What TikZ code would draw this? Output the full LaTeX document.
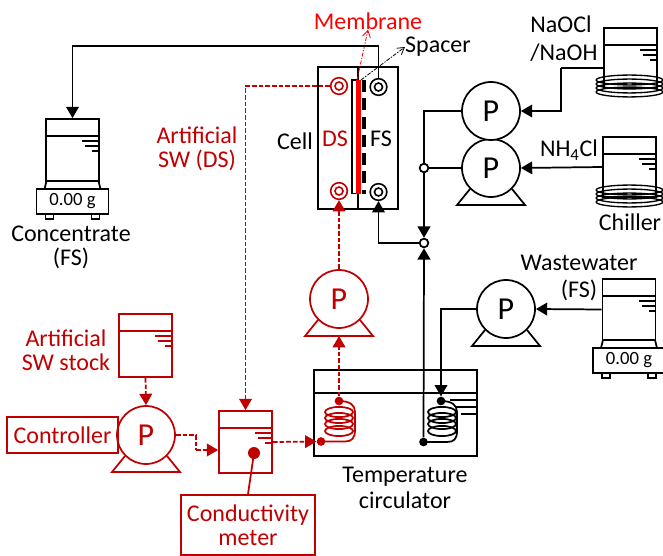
\documentclass[tikz,border=0pt]{standalone}
\usepackage{fontspec}
\setmainfont{Carlito}
\usetikzlibrary{arrows.meta}
\definecolor{darkred}{HTML}{C00000}
\tikzset{
  wire/.style={line width=1.3pt},
  flow/.style={wire,-{Triangle[length=8.5pt,width=9.5pt]}},
  redwire/.style={wire,darkred,dash pattern=on 3.5pt off 1.5pt},
  redflow/.style={redwire,-{Triangle[length=8.5pt,width=9.5pt]}},
  pumpbody/.style={circle,draw,wire,fill=white,inner sep=0pt,minimum size=43.5pt,font=\fontsize{24}{24}\selectfont},
  beaker/.style={rectangle,draw,wire,inner sep=0pt,minimum width=39.75pt},
  portring/.style={circle,draw,line width=1.2pt,fill=white,inner sep=0pt,minimum size=12.5pt},
  portcore/.style={circle,draw,line width=1.2pt,inner sep=0pt,minimum size=6pt},
  junction/.style={circle,draw,wire,fill=white,inner sep=0pt,minimum size=6.5pt},
  blob/.style={circle,fill,inner sep=0pt,minimum size=6.5pt},
  label/.style={align=center,inner sep=0pt,font=\fontsize{18}{18}\selectfont},
  redbox/.style={rectangle,draw=darkred,wire,text=darkred,align=center,inner sep=0pt,font=\fontsize{18}{18}\selectfont},
  pointer/.style={line width=0.6pt,dash pattern=on 3pt off 1pt on 1pt off 1pt,-{Straight Barb[length=5pt,width=6pt]}}
}
% pump: name, x, y, colour, letter colour goes with the colour
\newcommand{\pump}[4]{%
  \draw[wire,#4,line join=miter] (#2-21,#3+21) -- (#2-34,#3+37) -- (#2+34,#3+37) -- (#2+21,#3+21);
  \node[pumpbody,draw=#4,text=#4] (#1) at (#2,#3) {P};
  \coordinate (#1foot) at (#2,#3+37);
}
% beaker: name, x centre, top, bottom, colour
\newcommand{\tank}[5]{%
  \node[beaker,draw=#5,minimum height={(#4-#3)*0.75pt}] (#1) at (#2,{(#3+#4)/2}) {};
  \draw[wire,#5] (#2-26.5,#3+17) -- (#2+26.5,#3+17);
  \draw[wire,#5] (#2+26.5,#3+22) -- ++(-17,0);
  \draw[wire,#5] (#2+26.5,#3+27) -- ++(-14,0);
  \draw[wire,#5] (#2+26.5,#3+32) -- ++(-7,0);
}
% scale under a beaker: name, x centre, top
\newcommand{\scalebase}[3]{%
  \draw[wire] (#2-26,#3) -- (#2-28,#3+8) -- (#2+28,#3+8) -- (#2+26,#3);
  \draw[line width=1pt] (#2-27,#3+33) rectangle (#2-19,#3+38);
  \draw[line width=1pt] (#2+19,#3+33) rectangle (#2+27,#3+38);
  \node[rectangle,draw,wire,inner sep=0pt,minimum width=54pt,minimum height=19pt,fill=white,font=\fontsize{14}{14}\selectfont] (#1) at (#2,#3+20.5) {0.00 g};
}
% cooling coil round a beaker: x centre, first y
\newcommand{\chillcoil}[2]{%
  \foreach \yy in {0,4,8,12}
    \draw[line width=1pt] (#1,#2+\yy) ellipse[x radius=25pt,y radius=3.7pt];
}
% coil in the bath: x centre, colour
\newcommand{\bathcoil}[2]{%
  \foreach \yy in {412,418,424,431}
    \draw[wire,#2] (#1,\yy) ellipse[x radius=10.5pt,y radius=3.8pt];
}
\begin{document}
\begin{tikzpicture}[x=0.75pt,y=-0.75pt]
\useasboundingbox (0,0) rectangle (663,556);
% Cell
\node[rectangle,draw,wire,inner sep=0pt,minimum width=60pt,minimum height=106.5pt] (cell) at (358,138) {};
\draw[wire] (cell.north) -- (cell.south);
\draw[wire,fill=white] (352,80) rectangle (358,193.5);
\draw[line width=3pt,dash pattern=on 9pt off 4.7pt] (363.5,80) -- (363.5,194);
\draw[line width=3.2pt,red] (358.5,80) -- (358.5,194);
\coordinate (membtop) at (357,80);
\coordinate (spacertop) at (361,80);
% Ports
\node[portring,draw=darkred] (portdsup) at (339,86) {};
\node[portcore,draw=darkred] at (339,86) {};
\node[portring,draw=darkred] (portdslow) at (339,191) {};
\node[portcore,draw=darkred] at (339,191) {};
\node[portring] (portfsup) at (378.5,87) {};
\node[portcore] at (378.5,87) {};
\node[portring] (portfslow) at (378.5,192) {};
\node[portcore] at (378.5,192) {};
\node[label,text=darkred] (lblds) at (335,139) {DS};
\node[label] (lblfs) at (381,139) {FS};
\node[label] (lblcell) at (295,141) {Cell};
\node[label,text=red] (lblmemb) at (368,21) {Membrane};
\node[label] (lblspacer) at (438,47) {Spacer};
\draw[pointer,red] (membtop) -- (lblmemb.south);
\draw[pointer] (spacertop) -- (lblspacer.west);
% Pumps
\pump{pumpnh}{491}{168}{black}
\node[pumpbody] (pumpnaocl) at (491,111) {P};
\pump{pumpww}{506}{309}{black}
\pump{pumpds}{339}{299}{darkred}
\pump{pumpsw}{146}{435}{darkred}
% Concentrate
\tank{tankconc}{72.5}{119}{181}{black}
\scalebase{scaleconc}{72.5}{181}
\node[label] (lblconc) at (71,247) {Concentrate\\(FS)};
\coordinate (bendtop) at (378.5,46);
\draw[wire] (portfsup.north) -- (bendtop);
\draw[flow] (bendtop) -| (tankconc.north);
% NaOCl and NH4Cl
\chillcoil{629.5}{80}
\tank{tanknaocl}{630.5}{28}{88}{black}
\chillcoil{629.5}{190}
\tank{tanknh}{629.5}{137}{197}{black}
\node[label,align=left] (lblnaocl) at (564,39) {NaOCl\\[3pt]/NaOH};
\node[label] (lblnh) at (569,150) {NH\textsubscript{4}Cl};
\node[label] (lblchill) at (630,222) {Chiller};
\coordinate (bendnaocl) at (561,68);
\draw[wire] (tanknaocl.west |- bendnaocl) -- (bendnaocl);
\draw[flow] (bendnaocl) |- (pumpnaocl.east);
\draw[flow] (tanknh.west) -- (pumpnh.east);
% Junctions
\node[junction] (junctop) at (424,168) {};
\node[junction] (junclow) at (424,243) {};
\draw[wire] (pumpnaocl.west) -| (junctop.north);
\draw[wire] (pumpnh.west) -- (junctop.east);
\draw[flow] (junctop.south) -- (junclow.north);
\draw[flow] (junclow.west) -| (portfslow.south);
% Wastewater
\tank{tankww}{629}{279}{340}{black}
\scalebase{scaleww}{629}{340}
\node[label] (lblww) at (579,278) {Wastewater\\[2pt](FS)};
\draw[flow] (tankww.west) -- (pumpww.east);
% Temperature circulator
\node[rectangle,draw,wire,inner sep=0pt,minimum width=122.25pt,minimum height=64.5pt] (bath) at (395.5,413) {};
\draw[wire] (bath.west |- 0,393) -- (bath.east |- 0,393);
\draw[wire] (477,400) -- (450,400);
\draw[wire] (477,407) -- (455,407);
\draw[wire] (477,414) -- (461,414);
\node[label] (lblbath) at (405,488) {Temperature\\[2pt]circulator};
\bathcoil{339}{darkred}
\bathcoil{442}{black}
% Wires of the coils
\node[blob,darkred] (dotredtop) at (339,401) {};
\node[blob,darkred] (dotredlow) at (321,441.5) {};
\node[blob] (dotblktop) at (441,401) {};
\node[blob] (dotblklow) at (423.5,442) {};
\draw[wire,darkred] (dotredtop.center) .. controls (350,401) and (355,405) .. (355,412) -- (355,430) .. controls (355,438) and (352,441.5) .. (345,441.5) -- (dotredlow.center);
\draw[wire] (dotblktop.center) .. controls (452,401) and (457,405) .. (457,412) -- (457,431) .. controls (457,439) and (454,442) .. (447,442) -- (dotblklow.center);
\draw[flow] (dotblklow.north) -- (junclow.south);
\draw[flow] (pumpww.west) -| (dotblktop.north);
% Red circuit
\tank{tankstock}{145.5}{314}{377}{darkred}
\tank{tankmix}{245.5}{411}{473}{darkred}
\node[blob,darkred,minimum size=9pt] (dotmeter) at (254,453) {};
\node[redbox,minimum width=83pt,minimum height=27pt] (boxctrl) at (62.5,435) {Controller};
\node[redbox,minimum width=101pt,minimum height=45pt] (boxmeter) at (248,525) {Conductivity\\meter};
\node[label,text=darkred] (lblstock) at (66,350) {Artificial\\SW stock};
\node[label,text=darkred] (lblsw) at (197,149) {Artificial\\SW (DS)};
\draw[wire,darkred] (dotmeter.center) -- (boxmeter.north);
\draw[redflow] (tankstock.south) -- (pumpsw.north);
\coordinate (bendsw) at (196,450);
\draw[redwire] (pumpsw.east) -| (bendsw);
\draw[redflow] (bendsw) -- (tankmix.west |- bendsw);
\draw[redflow] (tankmix.east) -- (dotredlow.west);
\draw[redflow] (portdsup.west) -| (tankmix.north);
\draw[redflow] (pumpds.north) -- (portdslow.south);
\draw[redflow] (dotredtop.north) -- (pumpdsfoot);
\end{tikzpicture}
\end{document}
